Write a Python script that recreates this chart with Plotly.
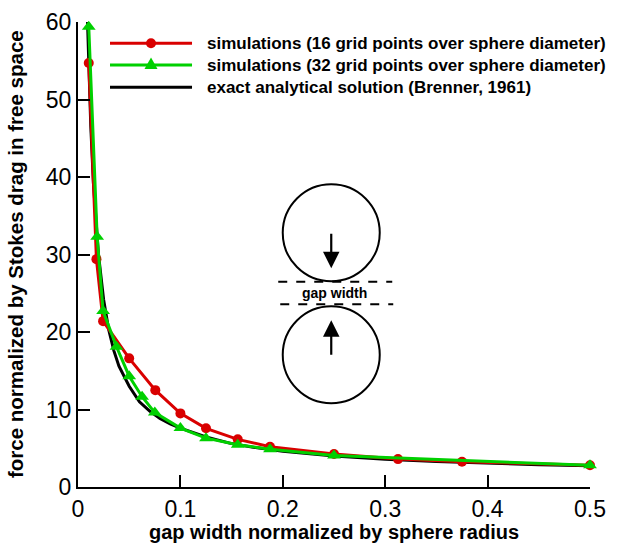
import plotly.graph_objects as go

# ---- data ----
x_sim16 = [0.0105, 0.0180, 0.0245, 0.050, 0.0755, 0.100, 0.125, 0.156, 0.1875, 0.250, 0.3125, 0.375, 0.500]
y_sim16 = [54.7, 29.4, 21.4, 16.6, 12.5, 9.5, 7.57, 6.15, 5.2, 4.26, 3.6, 3.26, 2.8]

x_sim32 = [0.0105, 0.0187, 0.0245, 0.0376, 0.050, 0.0626, 0.0750, 0.100, 0.125, 0.156, 0.1875, 0.250, 0.500]
y_sim32 = [59.4, 32.3, 22.7, 18.1, 14.3, 11.65, 9.6, 7.6, 6.3, 5.45, 4.86, 4.05, 2.8]

x_exact = [0.0093, 0.0105, 0.0125, 0.015, 0.0175, 0.020, 0.025, 0.030, 0.035, 0.040, 0.050,
           0.060, 0.070, 0.080, 0.090, 0.100, 0.125, 0.150, 0.175, 0.200, 0.250, 0.300,
           0.350, 0.400, 0.450, 0.500]
y_exact = [60.0, 55.0, 46.5, 39.3, 34.0, 30.0, 24.2, 20.3, 17.6, 15.6, 13.0,
           11.0, 9.8, 8.85, 8.15, 7.6, 6.45, 5.6, 5.05, 4.6, 4.0, 3.58,
           3.28, 3.05, 2.88, 2.73]

x_ticks = [0, 0.1, 0.2, 0.3, 0.4, 0.5]
x_ticklabels = ["0", "0.1", "0.2", "0.3", "0.4", "0.5"]
y_ticks = [0, 10, 20, 30, 40, 50, 60]
y_ticklabels = ["0", "10", "20", "30", "40", "50", "60"]

names = ["simulations (16 grid points over sphere diameter)",
         "simulations (32 grid points over sphere diameter)",
         "exact analytical solution (Brenner, 1961)"]
x_title = "gap width normalized by sphere radius"
y_title = "force normalized by Stokes drag in free space"

RED = "#d90000"
GREEN = "#00d000"
FONT = "Liberation Sans, Arial, Helvetica, sans-serif"

fig = go.Figure()
fig.add_trace(go.Scatter(x=x_exact, y=y_exact, mode="lines", name=names[2],
                         line=dict(color="black", width=3), showlegend=False,
                         cliponaxis=False))
fig.add_trace(go.Scatter(x=x_sim16, y=y_sim16, mode="lines+markers", name=names[0],
                         line=dict(color=RED, width=3),
                         marker=dict(symbol="circle", size=10, color=RED),
                         showlegend=False, cliponaxis=False))
fig.add_trace(go.Scatter(x=x_sim32, y=y_sim32, mode="lines+markers", name=names[1],
                         line=dict(color=GREEN, width=3),
                         marker=dict(symbol="triangle-up", size=12, color=GREEN),
                         showlegend=False, cliponaxis=False))

# ---- inset sketch: two spheres, arrows, gap width ----
cx, cy = 0.2473, 25.0   # anchor in data coords (center of the gap)
pix = dict(xref="x", yref="y", xsizemode="pixel", ysizemode="pixel", xanchor=cx, yanchor=cy)
shapes = [
    dict(type="circle", x0=-48.5, x1=48.5, y0=12, y1=109,
         line=dict(color="black", width=2), **pix),
    dict(type="circle", x0=-48.5, x1=48.5, y0=-13, y1=-110,
         line=dict(color="black", width=2), **pix),
    dict(type="line", x0=-53, x1=61, y0=11.5, y1=11.5,
         line=dict(color="black", width=2, dash="dash"), **pix),
    dict(type="line", x0=-51, x1=62, y0=-11, y1=-11,
         line=dict(color="black", width=2, dash="dash"), **pix),
]

annotations = [
    dict(x=cx, y=cy, xref="x", yref="y", text="<b>gap width</b>", showarrow=False,
         font=dict(family=FONT, size=14, color="black"), xshift=3),
    dict(x=cx, y=cy, xref="x", yref="y", text="", showarrow=True, arrowhead=2,
         arrowsize=1.5, arrowwidth=2.2, arrowcolor="black", ax=0, ay=-36,
         yshift=25),
    dict(x=cx, y=cy, xref="x", yref="y", text="", showarrow=True, arrowhead=2,
         arrowsize=1.5, arrowwidth=2.2, arrowcolor="black", ax=0, ay=36,
         yshift=-27),
]

# ---- legend drawn as shapes + text (row spacing as in the reference) ----
leg_rows = [0.9542, 0.9075, 0.8596]          # paper y of each legend row
leg_x0, leg_x1, leg_xm, leg_xt = 0.0625, 0.2227, 0.1426, 0.252
leg_colors = [RED, GREEN, "black"]
for i, (yy, col, nm) in enumerate(zip(leg_rows, leg_colors, names)):
    shapes.append(dict(type="line", xref="paper", yref="paper", x0=leg_x0, x1=leg_x1,
                       y0=yy, y1=yy, line=dict(color=col, width=3)))
    annotations.append(dict(x=leg_xt, y=yy, xref="paper", yref="paper", text="<b>%s</b>" % nm,
                            showarrow=False, xanchor="left", yanchor="middle", xshift=-2,
                            font=dict(family=FONT, size=17, color="black")))
mk = dict(xref="paper", yref="paper", xsizemode="pixel", ysizemode="pixel", xanchor=leg_xm)
shapes.append(dict(type="circle", x0=-5, x1=5, y0=-5, y1=5, yanchor=leg_rows[0],
                   fillcolor=RED, line=dict(color=RED, width=0), **mk))
shapes.append(dict(type="path", path="M-6.5,-4 L6.5,-4 L0,7.5 Z", yanchor=leg_rows[1],
                   fillcolor=GREEN, line=dict(color=GREEN, width=0), **mk))

# ---- axis titles ----
annotations.append(dict(x=0.5, y=-0.0968, xref="paper", yref="paper", text="<b>%s</b>" % x_title,
                        showarrow=False, xanchor="center", yanchor="middle",
                        font=dict(family=FONT, size=20, color="black")))
annotations.append(dict(x=-0.122, y=0.5, xref="paper", yref="paper", text="<b>%s</b>" % y_title,
                        showarrow=False, xanchor="center", yanchor="middle", textangle=-90,
                        font=dict(family=FONT, size=20.5, color="black")))

fig.update_layout(
    template="none",
    width=621, height=544,
    margin=dict(l=78, r=31, t=22, b=57, autoexpand=False),
    paper_bgcolor="white", plot_bgcolor="white",
    font=dict(family=FONT, color="black"),
    shapes=shapes, annotations=annotations,
    showlegend=False,
    xaxis=dict(range=[0, 0.5], tickvals=x_ticks, ticktext=x_ticklabels,
               ticks="inside", ticklen=12, tickwidth=2, tickcolor="black",
               showline=True, linewidth=2, linecolor="black",
               showgrid=False, zeroline=False, automargin=False,
               tickfont=dict(family=FONT, size=23, color="black")),
    yaxis=dict(range=[0, 60], tickvals=y_ticks, ticktext=y_ticklabels,
               ticks="inside", ticklen=12, tickwidth=2, tickcolor="black",
               showline=True, linewidth=2, linecolor="black",
               showgrid=False, zeroline=False, automargin=False,
               tickfont=dict(family=FONT, size=23, color="black")),
)

fig.write_html("out.html", config={"displayModeBar": False},
               post_script="document.body.style.margin='0px';")
